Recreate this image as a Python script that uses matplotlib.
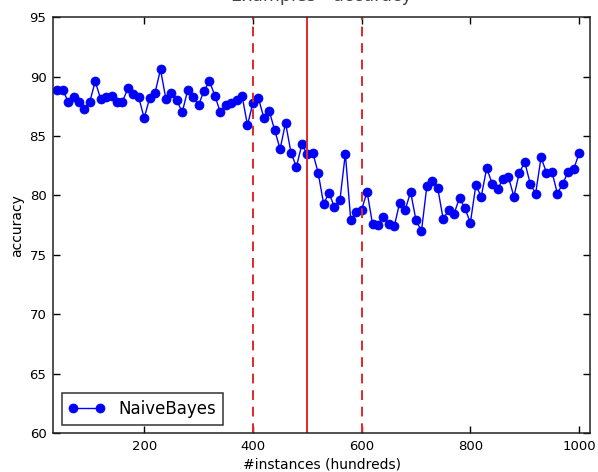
import matplotlib
matplotlib.use("Agg")
import matplotlib.pyplot as plt

# accuracy of the classifier over the stream, one point per 10 (hundred) instances
instances = list(range(40, 1001, 10))
accuracy = [
    88.9, 88.9, 87.9, 88.3, 87.9, 87.25, 87.9, 89.6, 88.1, 88.3,
    88.4, 87.9, 87.9, 89.0, 88.5, 88.25, 86.5, 88.2, 88.65, 90.6,
    88.1, 88.65, 88.0, 87.0, 88.85, 88.3, 87.6, 88.8, 89.6, 88.4,
    87.0, 87.6, 87.8, 88.0, 88.4, 85.9, 87.8, 88.2, 86.55, 87.1,
    85.5, 83.9, 86.1, 83.6, 82.4, 84.3, 83.45, 83.6, 81.9, 79.3,
    80.2, 79.0, 79.6, 83.5, 77.9, 78.6, 78.8, 80.3, 77.6, 77.55,
    78.2, 77.6, 77.4, 79.4, 78.75, 80.3, 77.9, 77.0, 80.8, 81.2,
    80.6, 78.0, 78.75, 78.45, 79.8, 78.9, 77.7, 80.85, 79.9, 82.3,
    81.0, 80.5, 81.4, 81.55, 79.9, 81.9, 82.8, 81.0, 80.15, 83.2,
    81.9, 82.0, 80.15, 81.0, 82.0, 82.2, 83.55,
]
drift_bounds = [400, 600]
drift_center = 500

fig = plt.figure(figsize=(5.98, 4.72), dpi=100)
ax = fig.add_axes([0.0893, 0.0826, 0.8973, 0.881])

ax.plot(instances, accuracy, "-o", color="#0000ff", lw=1, ms=6.5,
        markeredgecolor="#0000dd", markeredgewidth=0.5, label="NaiveBayes")
for b in drift_bounds:
    ax.axvline(b, color="#dd2a2a", lw=1.4, ls="--", dashes=(5, 3.5))
ax.axvline(drift_center, color="#dd2a2a", lw=1.4)

ax.set_xlim(33, 1020)
ax.set_ylim(60, 95)
ax.set_xticks([200, 400, 600, 800, 1000])
ax.set_yticks(range(60, 96, 5))
ax.tick_params(direction="in", top=True, right=True, length=5, width=1,
               labelsize=9.5, pad=5)
for s in ax.spines.values():
    s.set_linewidth(1.1)
    s.set_color("#222222")

# the title sits partly above the top edge of the picture, as in the original
ax.set_title("Examples - accuracy", fontsize=12.5, pad=12, color="#444444")
ax.set_xlabel("#instances (hundreds)", fontsize=10, labelpad=3)
ax.set_ylabel("accuracy", fontsize=10, labelpad=4)

leg = ax.legend(loc="lower left", numpoints=2, fontsize=12, fancybox=False,
                edgecolor="black", borderaxespad=0.5, handlelength=2.2)
leg.get_frame().set_linewidth(1.1)

plt.savefig("out.png", dpi=100)
plt.close()
